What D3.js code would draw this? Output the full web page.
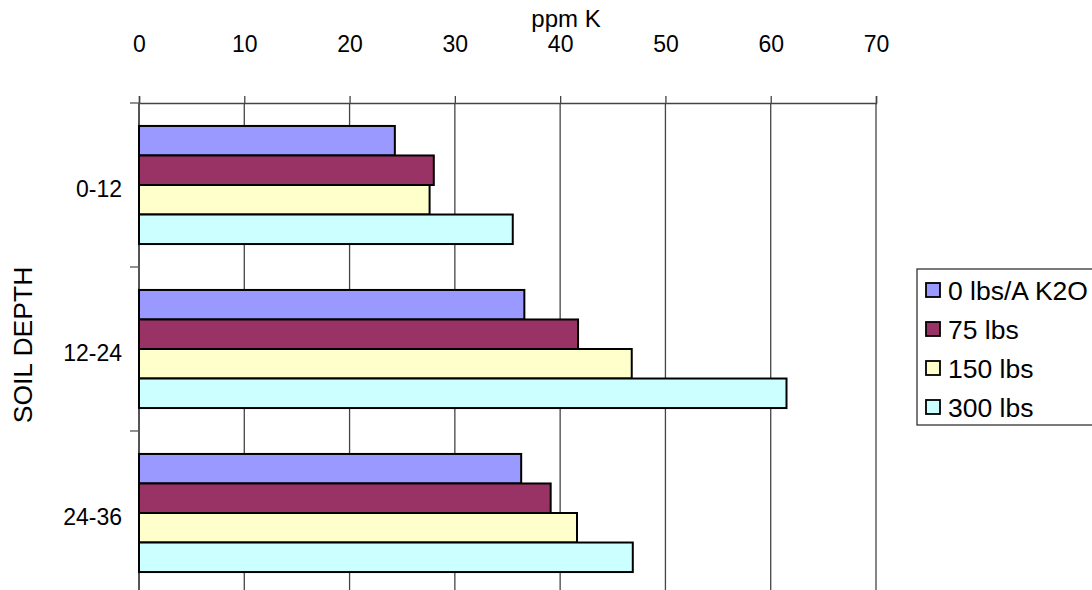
<!DOCTYPE html>
<html>
<head>
<meta charset="utf-8">
<script src="https://cdn.jsdelivr.net/npm/d3@7"></script>
<style>
  html, body { margin: 0; padding: 0; background: #fff; }
  svg { display: block; font-family: "Liberation Sans", Arial, sans-serif; }
</style>
</head>
<body>
<svg id="chart" width="1092" height="590"></svg>
<script>
const categories = ["0-12", "12-24", "24-36"];
const seriesNames = ["0 lbs/A K2O", "75 lbs", "150 lbs", "300 lbs"];
const seriesColors = ["#9999FF", "#993366", "#FFFFCC", "#CCFFFF"];
const values0 = [24.3, 36.6, 36.3];
const values75 = [28.0, 41.7, 39.1];
const values150 = [27.6, 46.8, 41.6];
const values300 = [35.5, 61.5, 46.9];
const xTicks = [0, 10, 20, 30, 40, 50, 60, 70];
const xTitle = "ppm K";
const yTitle = "SOIL DEPTH";

(function () {
const seriesValues = [values0, values75, values150, values300];
const svg = d3.select("#chart");

const pLeft = 139, pRight = 876, pTop = 103, pBottom = 595;

const x = d3.scaleLinear().domain([0, 70]).range([pLeft, pRight]);
const y = d3.scaleBand().domain(categories).range([pTop, pBottom])
  .paddingInner(0.28).paddingOuter(0.14);
const ySub = d3.scaleBand().domain(seriesNames).range([0, y.bandwidth()]);

// gridlines
svg.append("g").selectAll("line").data(xTicks.slice(1)).join("line")
  .attr("x1", d => x(d)).attr("x2", d => x(d))
  .attr("y1", pTop).attr("y2", pBottom)
  .attr("stroke", "#444").attr("stroke-width", 1.3);

// top axis
const xAxis = d3.axisTop(x).tickValues(xTicks).tickSize(7).tickPadding(44).tickFormat(d3.format("d"));
const gx = svg.append("g").attr("transform", `translate(0,${pTop})`).call(xAxis);
gx.select(".domain").attr("stroke", "#444").attr("stroke-width", 1.5);
gx.selectAll(".tick line").attr("stroke", "#444").attr("stroke-width", 1.3);
gx.selectAll(".tick text").attr("font-size", 23).attr("fill", "#000")
  .attr("font-family", "Liberation Sans, Arial, sans-serif");

// y axis
const yBoundaries = [pTop, pTop + y.step(), pTop + 2 * y.step()];
svg.append("line").attr("x1", pLeft).attr("x2", pLeft).attr("y1", pTop).attr("y2", pBottom)
  .attr("stroke", "#555").attr("stroke-width", 2);
svg.append("g").selectAll("line").data(yBoundaries).join("line")
  .attr("x1", pLeft - 9).attr("x2", pLeft).attr("y1", d => d).attr("y2", d => d)
  .attr("stroke", "#555").attr("stroke-width", 1.3);
svg.append("g").selectAll("text").data(categories).join("text")
  .attr("x", 122).attr("y", d => y(d) + y.bandwidth() / 2 + 4)
  .attr("text-anchor", "end").attr("dominant-baseline", "central")
  .attr("font-size", 23).attr("fill", "#000").text(d => d);

// bars
const groups = svg.append("g").selectAll("g").data(categories).join("g")
  .attr("transform", d => `translate(0,${y(d)})`);
groups.selectAll("rect")
  .data((c, ci) => seriesNames.map((s, si) => ({ s, si, v: seriesValues[si][ci] })))
  .join("rect")
  .attr("x", x(0))
  .attr("y", d => ySub(d.s))
  .attr("width", d => x(d.v) - x(0))
  .attr("height", ySub.bandwidth())
  .attr("fill", d => seriesColors[d.si])
  .attr("stroke", "#000").attr("stroke-width", 2);

// titles
svg.append("text").attr("x", 566).attr("y", 18).attr("text-anchor", "middle")
  .attr("dominant-baseline", "central").attr("font-size", 24).text(xTitle);
svg.append("text").attr("transform", "translate(23,345) rotate(-90)")
  .attr("text-anchor", "middle").attr("dominant-baseline", "central")
  .attr("font-size", 26.5).text(yTitle);

// legend
const lg = svg.append("g");
lg.append("rect").attr("x", 917).attr("y", 269).attr("width", 200).attr("height", 156)
  .attr("fill", "#fff").attr("stroke", "#333").attr("stroke-width", 1.3);
const legendY = d3.scalePoint().domain(seriesNames).range([290, 407]);
const items = lg.selectAll("g.item").data(seriesNames).join("g").attr("class", "item")
  .attr("transform", d => `translate(0,${legendY(d)})`);
items.append("rect").attr("x", 926).attr("y", -7).attr("width", 14).attr("height", 14)
  .attr("fill", (d, i) => seriesColors[i]).attr("stroke", "#000").attr("stroke-width", 1.8);
items.append("text").attr("x", 948).attr("y", 1).attr("dominant-baseline", "central")
  .attr("font-size", 26.5).attr("fill", "#000").text(d => d);
})();
</script>
</body>
</html>
